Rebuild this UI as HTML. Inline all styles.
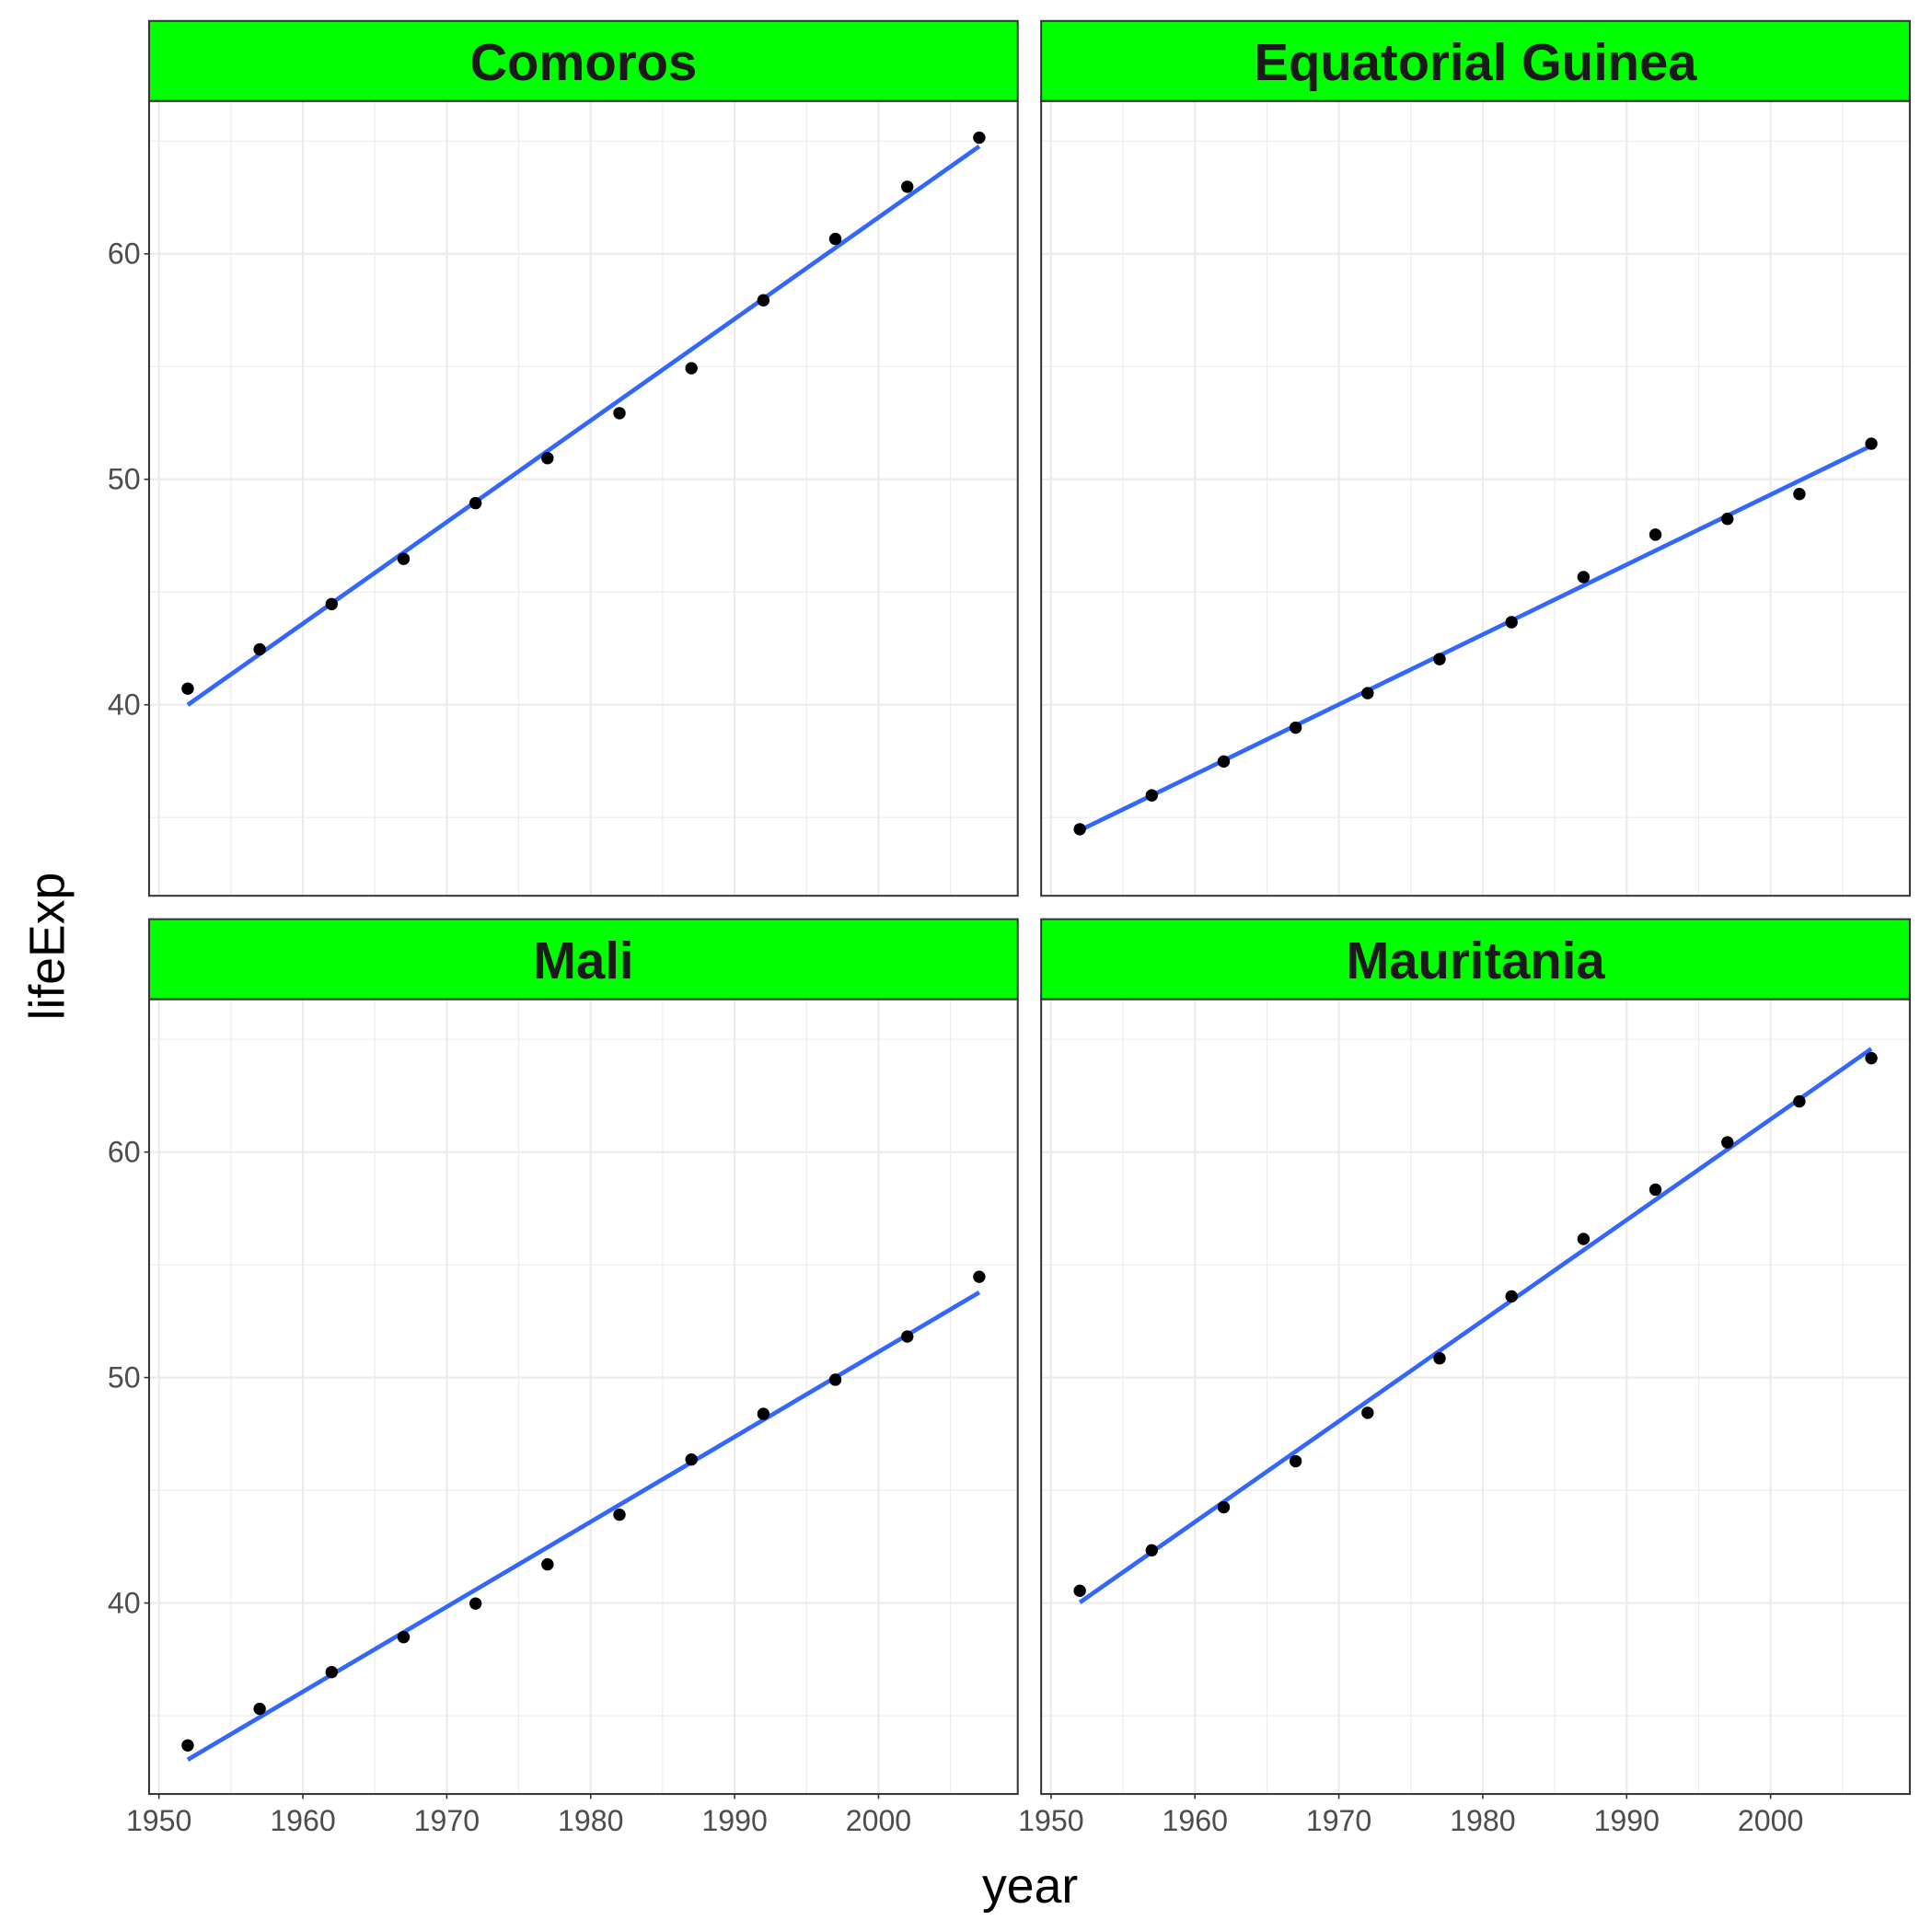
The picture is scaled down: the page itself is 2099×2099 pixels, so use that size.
<!DOCTYPE html>
<html><head><meta charset="utf-8"><style>
html,body{margin:0;padding:0;background:#fff}
svg{display:block}
text{font-family:"Liberation Sans",Arial,sans-serif}
</style></head><body>
<svg id="chart" width="2099" height="2099" viewBox="0 0 1568 1568" xmlns="http://www.w3.org/2000/svg"></svg>
<script>
const years=[1952,1957,1962,1967,1972,1977,1982,1987,1992,1997,2002,2007];
const countries=["Comoros","Equatorial Guinea","Mali","Mauritania"];
const comoros=[40.715,42.46,44.467,46.472,48.944,50.939,52.933,54.926,57.939,60.66,62.974,65.152];
const eqGuinea=[34.482,35.983,37.485,38.987,40.516,42.024,43.662,45.664,47.545,48.245,49.348,51.579];
const mali=[33.685,35.307,36.936,38.487,39.977,41.714,43.916,46.364,48.388,49.903,51.818,54.467];
const mauritania=[40.543,42.338,44.248,46.289,48.437,50.852,53.599,56.145,58.333,60.43,62.247,64.164];
const xTicks=[1950,1960,1970,1980,1990,2000];
const xMinor=[1955,1965,1975,1985,1995,2005];
const yTicks=[40,50,60];
const yMinor=[35,45,55,65];

const series=[comoros,eqGuinea,mali,mauritania];
const NS="http://www.w3.org/2000/svg";
const svg=document.getElementById('chart');
function mk(tag,attrs,parent){const e=document.createElementNS(NS,tag);for(const k in attrs)e.setAttribute(k,attrs[k]);(parent||svg).appendChild(e);return e;}
const panels=[{x0:121,x1:826,s0:17,p0:82,p1:727},{x0:845,x1:1550,s0:17,p0:82,p1:727},{x0:121,x1:826,s0:746,p0:811,p1:1456},{x0:845,x1:1550,s0:746,p0:811,p1:1456}];
const slugs=["comoros","equatorial-guinea","mali","mauritania"];
panels.forEach((p,i)=>{
  const xs=v=>p.x0+8+(v-1950)*(584/50);
  const ys=v=>(p.p0+124)+(60-v)*18.3;
  const g=mk('g',{});
  
  
  mk('rect',{x:p.x0,y:p.p0,width:p.x1-p.x0,height:p.p1-p.p0,fill:'#fff'},g);
  yMinor.forEach(v=>mk('line',{x1:p.x0,x2:p.x1,y1:ys(v),y2:ys(v),stroke:'#ebebeb','stroke-width':0.8},g));
  xMinor.forEach(v=>mk('line',{x1:xs(v),x2:xs(v),y1:p.p0,y2:p.p1,stroke:'#ebebeb','stroke-width':0.8},g));
  yTicks.forEach(v=>{const l=mk('line',{x1:p.x0,x2:p.x1,y1:ys(v),y2:ys(v),stroke:'#ebebeb','stroke-width':1.6},g);});
  xTicks.forEach(v=>{const l=mk('line',{x1:xs(v),x2:xs(v),y1:p.p0,y2:p.p1,stroke:'#ebebeb','stroke-width':1.6},g);});
  const st=mk('rect',{x:p.x0,y:p.s0,width:p.x1-p.x0,height:p.p0-p.s0,fill:'#00ff00',stroke:'#333','stroke-width':1.5},g);
  
  
  const stt=mk('text',{x:(p.x0+p.x1)/2,y:p.s0+48,'text-anchor':'middle','font-size':42,'font-weight':'bold',fill:'#1a1a1a'},g);
  stt.textContent=countries[i];
  
  
  const d=series[i];const n=d.length;
  const mx=years.reduce((a,b)=>a+b)/n,my=d.reduce((a,b)=>a+b)/n;
  let sxy=0,sxx=0;years.forEach((x,k)=>{sxy+=(x-mx)*(d[k]-my);sxx+=(x-mx)*(x-mx);});
  const b=sxy/sxx,a=my-b*mx;
  const fl=mk('line',{x1:xs(years[0]),y1:ys(a+b*years[0]),x2:xs(years[n-1]),y2:ys(a+b*years[n-1]),stroke:'#3366ff','stroke-width':3.5},g);
  
  
  years.forEach((yr,k)=>{const c=mk('circle',{cx:xs(yr),cy:ys(d[k]),r:5,fill:'#000'},g);
    
    });
  mk('rect',{x:p.x0,y:p.p0,width:p.x1-p.x0,height:p.p1-p.p0,fill:'none',stroke:'#333','stroke-width':1.5},g);
  if(i%2===0){yTicks.forEach(v=>{mk('line',{x1:p.x0-4,x2:p.x0,y1:ys(v),y2:ys(v),stroke:'#333','stroke-width':1.2},g);
    const t=mk('text',{x:p.x0-7,y:ys(v)+8,'text-anchor':'end','font-size':24,fill:'#4d4d4d'},g);t.textContent=v;
    
    });}
  if(i>=2){xTicks.forEach(v=>{mk('line',{x1:xs(v),x2:xs(v),y1:p.p1,y2:p.p1+4,stroke:'#333','stroke-width':1.2},g);
    const t=mk('text',{x:xs(v),y:p.p1+30,'text-anchor':'middle','font-size':24,fill:'#4d4d4d'},g);t.textContent=v;
    
    });}
});
const xt=mk('text',{x:836,y:1544,'text-anchor':'middle','font-size':40,fill:'#000'});xt.textContent='year';


const yt=mk('text',{x:0,y:0,transform:'translate(52,768) rotate(-90)','text-anchor':'middle','font-size':40,fill:'#000'});yt.textContent='lifeExp';


</script>
</body></html>
